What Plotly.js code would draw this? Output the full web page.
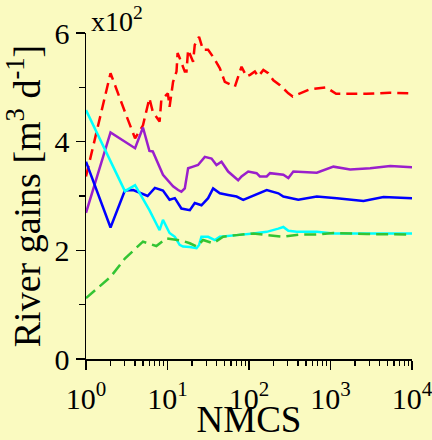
<!DOCTYPE html>
<html>
<head>
<meta charset="utf-8">
<script src="https://cdn.plot.ly/plotly-3.0.1.min.js"></script>
<style>
html,body{margin:0;padding:0;background:#FAFAC0;}
#chart{width:432px;height:440px;}
</style>
</head>
<body>
<div id="chart"></div>
<script>
// ---- data (River gains, m3/d) vs NMCS ----
const redN = [1,2,3,4,5,6,6.6,8,8.4,10.1,10.6,11.7,12.9,13.3,14.1,16.3,17.1,17.9,20.6,21.6,24.4,27.3,31.5,36.3,43.9,50.5,67,70.4,81,93,103,118,130,150,172,199,240,304,344,550,883,1172,1708,2740,5300,10000];
const redV = [336,526,455,406,430,480,455,437,477,489,464,510,529,563,554,529,529,569,547,578,593,569,569,556,535,510,501,510,538,520,523,529,520,532,526,513,504,489,483,496,500,488,488,488,490,489];

const purpleN = [1,2,4,5,6,6.6,8.8,10.6,11.7,13.5,14.8,16.3,17.9,20.6,23.7,28.7,34.7,39.9,46,55.5,73.6,81,97.8,124,136,165,181,264,304,350,679,1087,1742,3069,5409,10000];
const purpleV = [269,417,388,426,383,382,339,326,318,311,308,314,351,354,357,372,369,357,363,345,329,336,345,342,336,336,342,339,333,345,343,354,349,351,355,353];

const blueN = [1,2,3,3.8,5.7,7,8.8,10.6,12.3,14.8,18.8,21.6,26.1,31.5,36.3,43.9,55.5,70.4,84.9,108,165,229,264,403,679,1197,2540,4473,10000];
const blueV = [363,242,310,311,300,315,310,293,296,277,274,287,283,296,314,305,302,299,293,299,311,305,299,293,299,296,291,298,296];

const cyanN = [1,2,3,4,6,8,8.8,10.6,12.3,14.1,15.5,18.8,22.7,24.4,26.1,31.5,38.1,43.9,55.5,70.4,113,165,229,264,304,385,679,1087,2540,10000];
const cyanV = [458,363,309,320,274,237,256,232,225,210,207,206,204,210,225,225,219,225,226,228,231,234,240,243,236,234,234,231,231,231];

const greenN = [1,2,3,5,7.3,9.7,14.8,18.8,22.7,27.3,36.3,48.2,70.4,113,165,264,423,679,1087,2794,10000];
const greenV = [112,151,185,216,208,222,218,213,207,219,213,225,228,231,228,225,229,229,232,230,229];

const xTickVals = [1,10,100,1000,10000];
const xTickText = ['10<sup>0</sup>','10<sup>1</sup>','10<sup>2</sup>','10<sup>3</sup>','10<sup>4</sup>'];
const yTickVals = [0,200,400,600];
const yTickText = ['0','2','4','6'];
const yMinorVals = [100,300,500];

// minor log ticks 2..9 per decade
const xMinorVals = [];
for (let d = 0; d < 4; d++) {
  for (let k = 2; k <= 9; k++) xMinorVals.push(k * Math.pow(10, d));
}

const FONT = 'Liberation Serif, Times New Roman, serif';
const BG = '#FAFAC0';

function tr(x, y, color, dash) {
  return {x: x, y: y, type: 'scatter', mode: 'lines',
          line: {color: color, width: 2.5, dash: dash}, hoverinfo: 'skip'};
}

const traces = [
  tr(redN, redV, '#FF0000', '11px,6px'),
  tr(purpleN, purpleV, '#9A1FCC', 'solid'),
  tr(blueN, blueV, '#0000FF', 'solid'),
  tr(cyanN, cyanV, '#00FFFF', 'solid'),
  tr(greenN, greenV, '#33C433', '12px,6px')
];

const layout = {
  width: 432, height: 440,
  margin: {l: 86, r: 20, t: 33, b: 81},
  paper_bgcolor: BG, plot_bgcolor: BG,
  showlegend: false,
  font: {family: FONT, color: '#000', size: 30},
  xaxis: {
    type: 'log', range: [0, 4],
    tickmode: 'array', tickvals: xTickVals, ticktext: xTickText,
    ticks: 'outside', ticklen: 9, tickwidth: 1.5, tickcolor: '#000',
    minor: {tickvals: xMinorVals, ticks: 'outside', ticklen: 5, tickwidth: 1.2, tickcolor: '#000', showgrid: false},
    showline: true, linecolor: '#000', linewidth: 1.5,
    showgrid: false, zeroline: false,
    ticklabeloverflow: 'allow', ticklabelstandoff: 3,
    tickfont: {family: FONT, size: 30, color: '#000'},
    title: {text: 'NMCS', font: {family: FONT, size: 37, color: '#000'}, standoff: 0}
  },
  yaxis: {
    range: [0, 600],
    tickmode: 'array', tickvals: yTickVals, ticktext: yTickText,
    ticks: 'outside', ticklen: 9, tickwidth: 1.5, tickcolor: '#000',
    minor: {tickvals: yMinorVals, ticks: 'outside', ticklen: 6, tickwidth: 1.2, tickcolor: '#000', showgrid: false},
    showline: true, linecolor: '#000', linewidth: 1.5,
    showgrid: false, zeroline: false,
    tickfont: {family: FONT, size: 30, color: '#000'},
    title: {text: 'River gains [m<sup>3</sup> d<sup>-1</sup>]', font: {family: FONT, size: 38, color: '#000'}, standoff: 8}
  },
  annotations: [{
    text: 'x10<sup>2</sup>', xref: 'paper', yref: 'paper',
    x: 0.008, y: 1, xanchor: 'left', yanchor: 'bottom', yshift: -6,
    showarrow: false, font: {family: FONT, size: 28, color: '#000'}
  }]
};

Plotly.newPlot('chart', traces, layout, {displayModeBar: false, staticPlot: true});
</script>
</body>
</html>
